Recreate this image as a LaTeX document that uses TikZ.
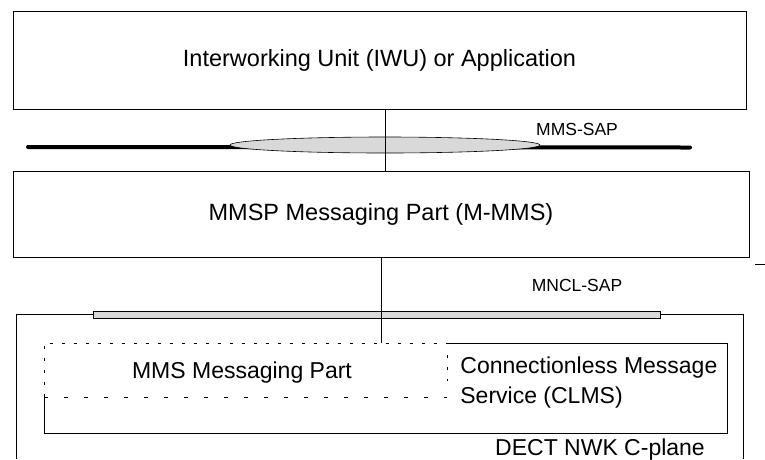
\documentclass[tikz,border=0pt]{standalone}
\usepackage{fontspec}
\setmainfont{Liberation Sans}
\usetikzlibrary{shapes.geometric}

\definecolor{sapgray}{RGB}{217,217,217}
\tikzset{
  layer/.style={shape=rectangle, draw=black, line width=0.8pt, inner sep=0pt, font=\fontsize{23.5}{27}\selectfont},
  bigtext/.style={anchor=base, inner sep=0pt, font=\fontsize{23}{27}\selectfont},
  sapname/.style={anchor=base, inner sep=0pt, font=\fontsize{17.5}{20}\selectfont},
  saptube/.style={shape=ellipse, draw=black, fill=sapgray, line width=0.6pt, inner sep=0pt},
  sapbar/.style={shape=rectangle, draw=black, fill=sapgray, line width=0.6pt, inner sep=0pt},
  finedash/.style={dash pattern=on 3pt off 9pt},
  widedash/.style={dash pattern=on 4pt off 16pt}
}

\begin{document}
\begin{tikzpicture}[x=1pt, y=-1pt, line width=0.8pt]
\useasboundingbox (0,0) rectangle (765,459);
% upper layers
\node[layer, minimum width=733, minimum height=98] (iwu) at (379.5,60) {Interworking Unit (IWU) or Application};
\node[layer, minimum width=736, minimum height=86] (mmsp) at (381,214) {MMSP Messaging Part (M-MMS)};
% MMS-SAP
\coordinate (sapL) at (28,147);
\coordinate (sapR) at (690,147.5);
\draw[line width=4pt, line cap=round] (sapL) -- (sapR);
\node[saptube, minimum width=310, minimum height=16] (mmssap) at (385,145) {};
\draw (iwu.south -| mmssap.center) -- (mmsp.north -| mmssap.center);
\node[sapname] (mmssaplabel) at (577,135) {MMS-SAP};
\draw (755,264) -- (765,264);
% MNCL-SAP
\node[sapname] (mnclsaplabel) at (577,291) {MNCL-SAP};
\node[sapbar, minimum width=567, minimum height=7] (mnclsap) at (377,314.5) {};
\draw (16,459) |- (mnclsap.west);
\draw (mnclsap.east) -| (743,459);
% DECT NWK C-plane
\coordinate (cplanetop) at (381,343);
\draw (mmsp.south -| cplanetop) -- (cplanetop);
\draw (447,343) -- (727,343) -- (727,433) -- (44,433) -- (44,397);
\draw[finedash, line width=0.6pt] (44,397) -- (44,343) -- (447,343);
\draw[widedash, line width=0.6pt] (44,397) -- (447,397);
\draw[finedash, line width=0.6pt] (447,355) -- (447,381);
\node[bigtext] (mmspart) at (242,378) {MMS Messaging Part};
\node[bigtext, anchor=base west] (clmsA) at (460,373) {Connectionless Message};
\node[bigtext, anchor=base west] (clmsB) at (460,403) {Service (CLMS)};
\node[bigtext] (cplane) at (600,455) {DECT NWK C-plane};
\end{tikzpicture}
\end{document}
